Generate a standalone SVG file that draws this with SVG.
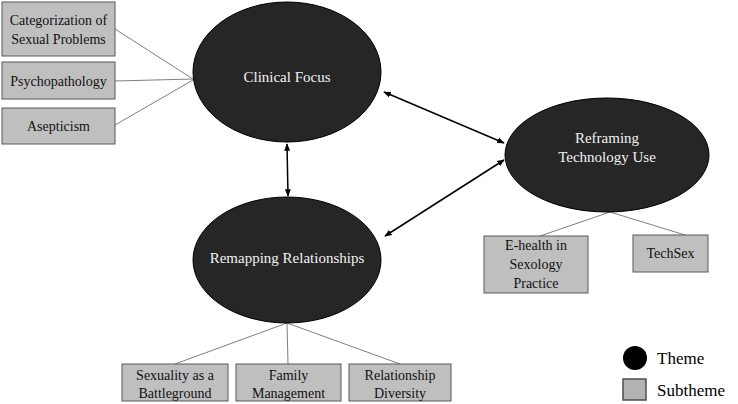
<svg xmlns="http://www.w3.org/2000/svg" width="738" height="404" viewBox="0 0 738 404">
<style>
.box{fill:#bfbfbf;stroke:#595959;stroke-width:1}
.theme{fill:#262626;stroke:#000;stroke-width:1}
.bt{font-family:"Liberation Serif","Times New Roman",serif;font-size:14px;fill:#111;text-anchor:middle}
.tt{font-family:"Liberation Serif","Times New Roman",serif;font-size:15px;fill:#f2f2f2;text-anchor:middle}
.lg{font-family:"Liberation Serif","Times New Roman",serif;font-size:17px;fill:#000}
.link{stroke:#7f7f7f;stroke-width:1;fill:none}
.arr{stroke:#000;stroke-width:1.5;fill:none;marker-start:url(#ah);marker-end:url(#ah)}
</style>
<defs>
<marker id="ah" viewBox="0 0 10 10" refX="9" refY="5" markerWidth="5" markerHeight="5" orient="auto-start-reverse" markerUnits="strokeWidth">
<path d="M0,1 L10,5 L0,9 z" fill="#000"/>
</marker>
</defs>
<rect width="738" height="404" fill="#fff"/>
<g id="connectors">
<line class="link" x1="115" y1="29" x2="193" y2="79"/>
<line class="link" x1="115" y1="81" x2="193" y2="79"/>
<line class="link" x1="115" y1="125" x2="193" y2="80"/>
<line class="link" x1="610" y1="212" x2="540" y2="236"/>
<line class="link" x1="610" y1="212" x2="685" y2="235"/>
<line class="link" x1="287" y1="323" x2="175" y2="364"/>
<line class="link" x1="287" y1="323" x2="288" y2="364"/>
<line class="link" x1="287" y1="323" x2="400" y2="364"/>
<line class="arr" x1="384" y1="92" x2="504" y2="143"/>
<line class="arr" x1="385" y1="236" x2="504" y2="160"/>
<line class="arr" x1="287" y1="144" x2="288" y2="196"/>
</g>
<g id="clinical-focus">
<ellipse class="theme" cx="287" cy="72" rx="94" ry="70"/>
<text class="tt" x="287" y="82">Clinical Focus</text>
</g>
<g id="remapping-relationships">
<ellipse class="theme" cx="287" cy="260" rx="94" ry="63"/>
<text class="tt" x="287" y="263">Remapping Relationships</text>
</g>
<g id="reframing-technology">
<ellipse class="theme" cx="607" cy="155" rx="102" ry="57"/>
<text class="tt" x="607" y="143">Reframing</text>
<text class="tt" x="607" y="162">Technology Use</text>
</g>
<g id="categorization">
<rect class="box" x="2" y="2" width="113" height="54"/>
<text class="bt" x="58.5" y="25">Categorization of</text>
<text class="bt" x="58.5" y="44">Sexual Problems</text>
</g>
<g id="psychopathology">
<rect class="box" x="2" y="62" width="113" height="37"/>
<text class="bt" x="58.5" y="86">Psychopathology</text>
</g>
<g id="asepticism">
<rect class="box" x="2" y="108" width="113" height="36"/>
<text class="bt" x="58.5" y="131">Asepticism</text>
</g>
<g id="ehealth">
<rect class="box" x="484" y="236" width="104" height="57"/>
<text class="bt" x="536" y="250">E-health in</text>
<text class="bt" x="536" y="269">Sexology</text>
<text class="bt" x="536" y="288">Practice</text>
</g>
<g id="techsex">
<rect class="box" x="633" y="235" width="75" height="37"/>
<text class="bt" x="670.5" y="258">TechSex</text>
</g>
<g id="sexuality-battleground">
<rect class="box" x="122" y="364" width="106" height="37"/>
<text class="bt" x="175" y="380">Sexuality as a</text>
<text class="bt" x="175" y="398">Battleground</text>
</g>
<g id="family-management">
<rect class="box" x="236" y="364" width="105" height="37"/>
<text class="bt" x="288.5" y="380">Family</text>
<text class="bt" x="288.5" y="398">Management</text>
</g>
<g id="relationship-diversity">
<rect class="box" x="349" y="364" width="102" height="37"/>
<text class="bt" x="400" y="380">Relationship</text>
<text class="bt" x="400" y="398">Diversity</text>
</g>
<g id="legend">
<circle cx="635" cy="358" r="12" fill="#000"/>
<text class="lg" x="657" y="364">Theme</text>
<rect x="623" y="379" width="23" height="21" fill="#b3b3b3" stroke="#4d4d4d" stroke-width="1.5"/>
<text class="lg" x="657" y="396">Subtheme</text>
</g>
</svg>
